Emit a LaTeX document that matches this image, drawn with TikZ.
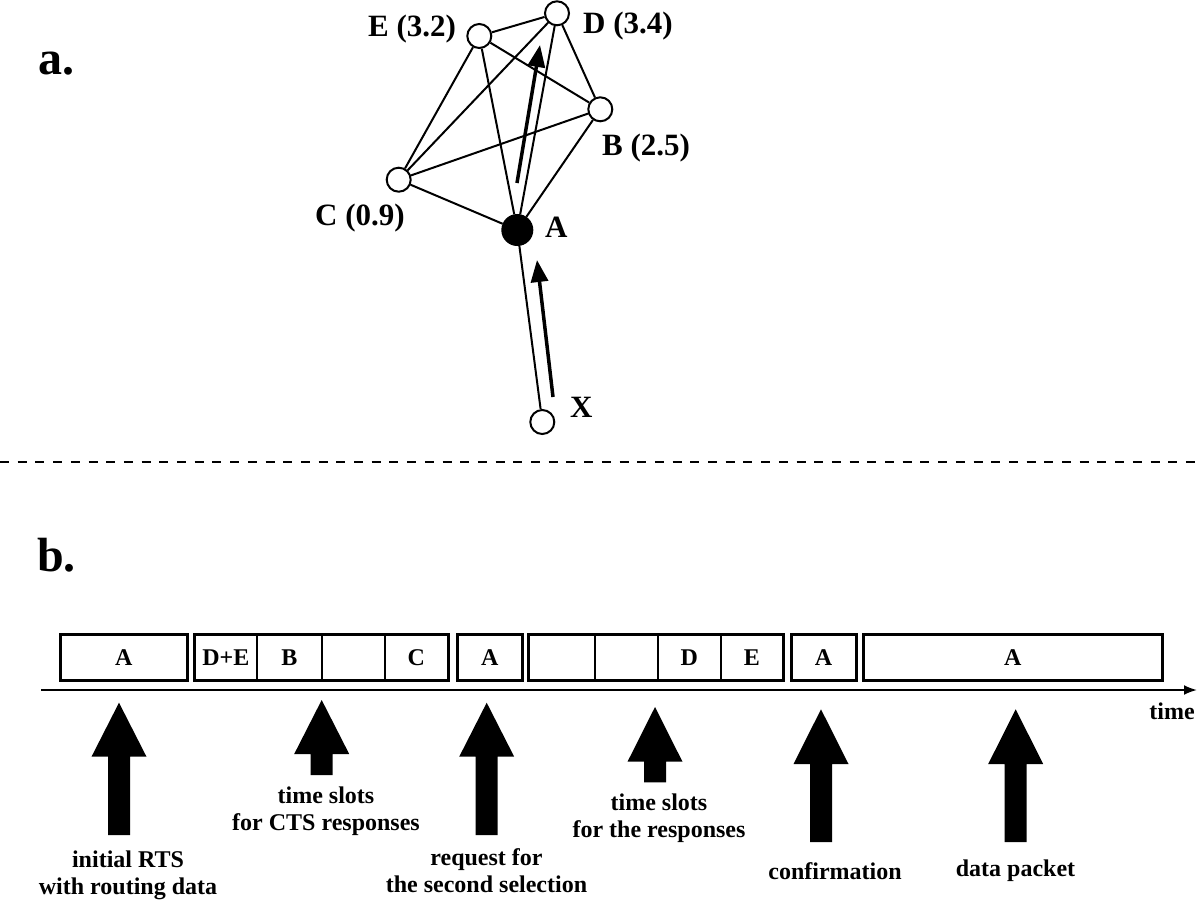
\documentclass[tikz,border=0pt]{standalone}
\usepackage{fontspec}
\setmainfont{Liberation Serif}
\usetikzlibrary{arrows.meta}
\begin{document}
\begin{tikzpicture}[x=1pt,y=-1pt,
 vtx/.style={circle, draw, line width=2pt, fill=white, minimum size=24pt, inner sep=0pt},
 avtx/.style={circle, draw, fill=black, line width=2pt, minimum size=30pt, inner sep=0pt},
 glabel/.style={font=\fontsize{31}{31}\selectfont\bfseries, inner sep=0pt, anchor=base west},
 panel/.style={font=\fontsize{48}{48}\selectfont\bfseries, inner sep=0pt, anchor=base west},
 edge/.style={line width=2pt},
 route/.style={line width=3.5pt, -{Triangle[length=22pt,width=17pt]}},
 cell/.style={draw, line width=1.8pt, minimum height=45pt, inner sep=0pt, anchor=west, font=\fontsize{24}{24}\selectfont\bfseries},
 grp/.style={draw, line width=3pt},
 lbl/.style={font=\fontsize{24}{27}\selectfont\bfseries, align=center, inner sep=0pt, anchor=base},
]
\useasboundingbox (0,0) rectangle (1200,900);
\newcommand{\cellat}[4]{\node[cell, minimum width={#3-#2}] (#1) at (#2,657.5) {#4};}
\newcommand{\blkarrow}[4]{\fill (#1-11,#4) -- (#1-11,#3) -- (#1-27.5,#3) -- (#1,#2) -- (#1+27.5,#3) -- (#1+11,#3) -- (#1+11,#4) -- cycle;}

% panel labels
\node[panel] (pa) at (38,74) {a.};
\node[panel] (pb) at (37,571) {b.};

% graph nodes
\node[vtx] (D) at (557,13.3) {};
\node[vtx] (E) at (479.3,36) {};
\node[vtx] (B) at (600.3,109.3) {};
\node[vtx] (C) at (398.7,179.7) {};
\node[avtx] (A) at (517.3,230) {};
\node[vtx] (X) at (542.3,422) {};

\foreach \u/\v in {E/D,E/B,E/C,E/A,D/C,D/A,D/B,B/C,B/A,C/A,A/X}
  \draw[edge] (\u) -- (\v);

% labels
\node[glabel] (lE) at (368,36) {E (3.2)};
\node[glabel] (lD) at (583,33) {D (3.4)};
\node[glabel] (lB) at (602,155) {B (2.5)};
\node[glabel] (lC) at (315,225) {C (0.9)};
\node[glabel] (lA) at (545,237) {A};
\node[glabel] (lX) at (570,417) {X};

% routing arrows
\coordinate (r1s) at (517,183);
\coordinate (r1e) at (540,45);
\coordinate (r2s) at (553,397);
\coordinate (r2e) at (537,260);
\draw[route] (r1s) -- (r1e);
\draw[route] (r2s) -- (r2e);

% dashed separator
\coordinate (d0) at (0,462.3);
\coordinate (d1) at (1200,462.3);
\draw[line width=2pt, dash pattern=on 9pt off 8.7pt] (d0) -- (d1);

% timeline cells
\cellat{c1}{60}{186}{A}
\cellat{c21}{194}{256}{D+E}
\cellat{c22}{256}{321}{B}
\cellat{c23}{321}{384}{}
\cellat{c24}{384}{447}{C}
\cellat{c3}{457}{521}{A}
\cellat{c41}{528}{594}{}
\cellat{c42}{594}{657}{}
\cellat{c43}{657}{720}{D}
\cellat{c44}{720}{782}{E}
\cellat{c5}{791}{854.5}{A}
\cellat{c6}{863}{1161}{A}
\draw[grp] (c1.north west) rectangle (c1.south east);
\draw[grp] (c21.north west) rectangle (c24.south east);
\draw[grp] (c3.north west) rectangle (c3.south east);
\draw[grp] (c41.north west) rectangle (c44.south east);
\draw[grp] (c5.north west) rectangle (c5.south east);
\draw[grp] (c6.north west) rectangle (c6.south east);

% time axis
\coordinate (t0) at (41,690);
\coordinate (t1) at (1197,690);
\draw[line width=2pt, -{Latex[length=13pt,width=10pt]}] (t0) -- (t1);
\node[lbl] (time) at (1172,719) {time};

% block arrows
\blkarrow{119}{702.7}{756.7}{835}
\blkarrow{321.7}{700}{754}{775}
\blkarrow{486.7}{702.7}{756.7}{835}
\blkarrow{655}{707}{761.7}{782.3}
\blkarrow{821}{709.3}{764}{842}
\blkarrow{1015.7}{709.3}{764}{842}

% block arrow labels (base = last line)
\node[lbl] (m1) at (128,894) {initial RTS\\with routing data};
\node[lbl] (m2) at (326,830) {time slots\\for CTS responses};
\node[lbl] (m3) at (486.5,892) {request for\\the second selection};
\node[lbl] (m4) at (659,837) {time slots\\for the responses};
\node[lbl] (m5) at (835,879.3) {confirmation};
\node[lbl] (m6) at (1015.5,876.7) {data packet};
\end{tikzpicture}
\end{document}
